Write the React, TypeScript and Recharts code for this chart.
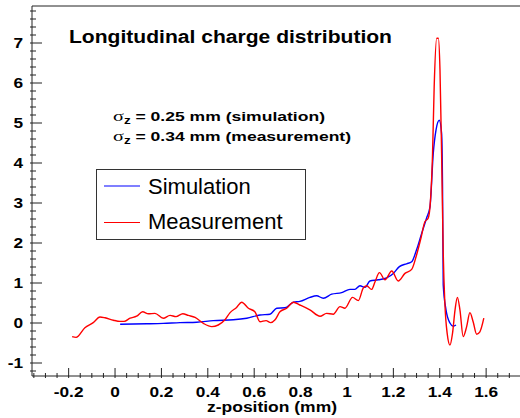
import { LineChart, Line, XAxis, YAxis, ReferenceLine } from 'recharts';

// Simulation curve (z in mm, charge density)
const simX = [
  0.022, 0.137, 0.208, 0.28, 0.352, 0.424, 0.51, 0.568, 0.625, 0.668, 0.697, 0.733, 0.769, 0.797,
  0.84, 0.869, 0.898, 0.934, 0.977, 1.013, 1.034, 1.056, 1.078, 1.099, 1.135, 1.171, 1.2, 1.226,
  1.257, 1.279, 1.3, 1.322, 1.343, 1.358, 1.372, 1.384, 1.398, 1.408, 1.412, 1.415, 1.427, 1.444,
  1.458, 1.47,
];
const simY = [
  -0.03, -0.02, -0.01, 0.01, 0.02, 0.06, 0.08, 0.12, 0.2, 0.22, 0.37, 0.38, 0.52, 0.54,
  0.64, 0.68, 0.62, 0.72, 0.76, 0.84, 0.84, 0.93, 0.89, 1.05, 1.08, 1.13, 1.24, 1.41,
  1.48, 1.53, 1.83, 2.24, 2.62, 2.91, 4.24, 4.83, 5.07, 4.74, 3.41, 0.95, 0.33, 0.0,
  -0.08, -0.05,
];

// Measurement curve
const measX = [
  -0.185, -0.168, -0.13, -0.094, -0.065, -0.043, -0.007, 0.022, 0.039, 0.065, 0.093, 0.119, 0.144,
  0.172, 0.208, 0.237, 0.263, 0.292, 0.316, 0.345, 0.381, 0.417, 0.445, 0.474, 0.496, 0.524, 0.546,
  0.575, 0.603, 0.625, 0.651, 0.671, 0.69, 0.711, 0.74, 0.769, 0.797, 0.84, 0.884, 0.912, 0.941,
  0.97, 0.991, 1.024, 1.049, 1.07, 1.085, 1.106, 1.121, 1.14, 1.164, 1.193, 1.221, 1.25, 1.279,
  1.3, 1.318, 1.336, 1.35, 1.358, 1.369, 1.376, 1.387, 1.394, 1.401, 1.408, 1.415, 1.422, 1.432,
  1.444, 1.455, 1.466, 1.476, 1.487, 1.501, 1.516, 1.53, 1.544, 1.559, 1.573, 1.59,
];
const measY = [
  -0.34, -0.36, -0.12, 0.01, 0.15, 0.13, 0.07, 0.04, 0.04, 0.12, 0.17, 0.28, 0.23,
  0.24, 0.12, 0.19, 0.16, 0.23, 0.19, 0.14, -0.01, -0.09, -0.05, 0.08, 0.26, 0.39, 0.52,
  0.37, 0.28, 0.03, 0.06, 0.01, 0.08, 0.28, 0.37, 0.52, 0.45, 0.33, 0.17, 0.24, 0.22,
  0.41, 0.37, 0.64, 0.56, 0.87, 0.93, 0.84, 1.03, 1.26, 1.08, 1.3, 1.05, 1.24, 1.34,
  1.7, 2.1, 2.53, 2.62, 2.91, 4.24, 5.91, 7.12, 7.12, 6.33, 4.24, 1.75, 0.5, -0.26,
  -0.55, -0.26, 0.33, 0.64, 0.33, -0.34, -0.09, 0.26, 0.03, -0.28, -0.22, 0.12,
];

const xMajorTicks = [-0.2, 0, 0.2, 0.4, 0.6, 0.8, 1, 1.2, 1.4, 1.6];
const yMajorTicks = [-1, 0, 1, 2, 3, 4, 5, 6, 7];
const seriesNames = ['Simulation', 'Measurement'];
const sigmaValues = ['0.25', '0.34'];
const sigmaSources = ['simulation', 'measurement'];
const title = 'Longitudinal charge distribution';
const xTitle = 'z-position (mm)';

const X_MIN = -0.358;
const X_MAX = 1.746;
const Y_MIN = -1.325;
const Y_MAX = 7.925;

const SIM_COLOR = '#0000ff';
const MEAS_COLOR = '#ff0000';
const AXIS = '#222';
const FONT = '"Liberation Sans", Arial, Helvetica, sans-serif';

const round = (v: number) => Math.round(v * 1000) / 1000;
const xTicks = Array.from({ length: 42 }, (_, i) => round(-0.35 + i * 0.05));
const yTicks = Array.from({ length: 46 }, (_, i) => round(-1.2 + i * 0.2));

const simData = simX.map((x, i) => ({ x, y: simY[i] }));
const measData = measX.map((x, i) => ({ x, y: measY[i] }));

const isMajor = (v: number, list: number[]) => list.some((m) => Math.abs(m - v) < 1e-6);
const fmt = (v: number) => String(Math.round(v * 100) / 100);

const XTick = (props: any) => {
  const { x, y, payload } = props;
  const major = isMajor(payload.value, xMajorTicks);
  return (
    <g>
      <line x1={x} x2={x} y1={y} y2={y - (major ? 10 : 5)} stroke={AXIS} strokeWidth={1} />
      {major && (
        <text
          transform={`translate(${x},${y + 19}) scale(1.15,1)`}
          textAnchor="middle"
          fontFamily={FONT}
          fontWeight="bold"
          fontSize={15}
          fill="#000"
        >
          {fmt(payload.value)}
        </text>
      )}
    </g>
  );
};

const YTick = (props: any) => {
  const { x, y, payload } = props;
  const major = isMajor(payload.value, yMajorTicks);
  return (
    <g>
      <line x1={x} x2={x + (major ? 12 : 6)} y1={y} y2={y} stroke={AXIS} strokeWidth={1} />
      {major && (
        <text
          transform={`translate(${x - 7},${y + 5}) scale(1.15,1)`}
          textAnchor="end"
          fontFamily={FONT}
          fontWeight="bold"
          fontSize={15}
          fill="#000"
        >
          {fmt(payload.value)}
        </text>
      )}
    </g>
  );
};

export default function App() {
  return (
    <div style={{ position: 'absolute', left: 0, top: 0, width: 520, height: 418, background: '#fff' }}>
      <LineChart width={520} height={418} margin={{ top: 6, right: 0, left: 0, bottom: 0 }}>
        <XAxis
          dataKey="x"
          type="number"
          domain={[X_MIN, X_MAX]}
          ticks={xTicks}
          interval={0}
          height={42}
          tickSize={0}
          tickLine={false}
          tick={<XTick />}
          axisLine={{ stroke: AXIS, strokeWidth: 1 }}
          allowDataOverflow
        />
        <YAxis
          type="number"
          domain={[Y_MIN, Y_MAX]}
          ticks={yTicks}
          interval={0}
          width={32}
          tickSize={0}
          tickLine={false}
          tick={<YTick />}
          axisLine={{ stroke: AXIS, strokeWidth: 1 }}
          allowDataOverflow
        />
        <ReferenceLine y={Y_MAX} stroke={AXIS} strokeWidth={1} />
        <Line
          data={simData}
          dataKey="y"
          type="monotone"
          stroke={SIM_COLOR}
          strokeWidth={1.4}
          dot={false}
          isAnimationActive={false}
          name={seriesNames[0]}
        />
        <Line
          data={measData}
          dataKey="y"
          type="monotone"
          stroke={MEAS_COLOR}
          strokeWidth={1.4}
          dot={false}
          isAnimationActive={false}
          name={seriesNames[1]}
        />
      </LineChart>
      <svg
        width={520}
        height={418}
        style={{ position: 'absolute', left: 0, top: 0, pointerEvents: 'none' }}
      >
        <text x={69} y={43} fontFamily={FONT} fontWeight="bold" fontSize={18} textLength={323} lengthAdjust="spacingAndGlyphs">
          {title}
        </text>
        {sigmaValues.map((v, i) => (
          <text
            key={v}
            x={113}
            y={121 + i * 20}
            fontFamily={FONT}
            fontWeight="bold"
            fontSize={13}
            textLength={i === 0 ? 212 : 238}
            lengthAdjust="spacingAndGlyphs"
          >
            <tspan fontFamily='"Liberation Serif", "DejaVu Serif", serif' fontWeight="normal" fontSize={15}>σ</tspan>
            <tspan fontSize={10} dy={3}>z</tspan>
            <tspan dy={-3}>{` = ${v} mm (${sigmaSources[i]})`}</tspan>
          </text>
        ))}
        <rect x={96.5} y={169.5} width={209} height={70} fill="#fff" stroke="#333" strokeWidth={1} />
        {seriesNames.map((n, i) => (
          <g key={n}>
            <line x1={104} x2={140} y1={186 + i * 36.5} y2={186 + i * 36.5} stroke={i === 0 ? SIM_COLOR : MEAS_COLOR} strokeWidth={1.2} />
            <text x={148} y={194 + i * 35} fontFamily={FONT} fontSize={22} fill="#000">
              {n}
            </text>
          </g>
        ))}
        <text x={207} y={412} fontFamily={FONT} fontWeight="bold" fontSize={14} textLength={130} lengthAdjust="spacingAndGlyphs">
          {xTitle}
        </text>
      </svg>
    </div>
  );
}
